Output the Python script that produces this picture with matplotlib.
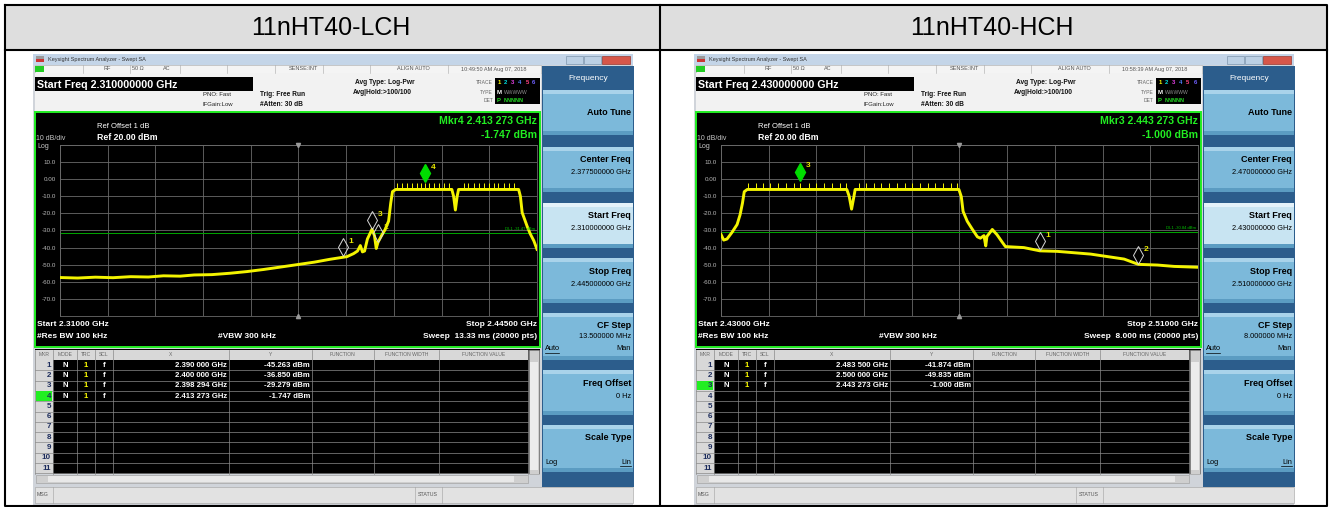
import numpy as np
import matplotlib.pyplot as plt
from matplotlib.patches import Rectangle
from matplotlib.transforms import blended_transform_factory

plt.rcParams['font.family'] = ['Liberation Sans', 'DejaVu Sans']

# ---- data ----
panel_titles = ['11nHT40-LCH', '11nHT40-HCH']
start_ghz = [2.310, 2.430]
stop_ghz = [2.445, 2.510]
center_txt = ['2.377500000 GHz', '2.470000000 GHz']
cf_step_txt = ['13.500000 MHz', '8.000000 MHz']
clock_txt = ['10:49:50 AM Aug 07, 2018', '10:58:39 AM Aug 07, 2018']
sweep_txt = ['13.33 ms', '8.000 ms']
dl1_dbm = [-31.47, -30.84]

lch_freq = [2.3100, 2.3150, 2.3200, 2.3250, 2.3300, 2.3350, 2.3393, 2.3440, 2.3480, 2.3530,
            2.3581, 2.3630, 2.3676, 2.3720, 2.3770, 2.3820, 2.3865, 2.3890, 2.3912, 2.3931,
            2.3942, 2.3950, 2.3956, 2.3962, 2.3970, 2.3983, 2.3990, 2.3995, 2.4000, 2.4010,
            2.4020, 2.4030, 2.4036, 2.4041, 2.4050, 2.4209, 2.4214, 2.4219, 2.4224, 2.4228,
            2.4398, 2.4403, 2.4408, 2.4422, 2.4431, 2.4441, 2.4450]
lch_level = [-57.5, -57.8, -57.3, -57.6, -57.0, -57.2, -56.5, -56.7, -56.0, -55.8,
             -55.0, -54.0, -52.8, -51.5, -50.0, -48.5, -46.8, -46.0, -45.3, -43.5,
             -42.0, -38.8, -42.5, -42.0, -35.0, -29.3, -33.0, -40.5, -36.85, -33.0,
             -29.5, -24.5, -14.0, -7.3, -6.0, -6.0, -10.0, -18.0, -10.0, -6.0,
             -6.0, -10.0, -19.5, -27.5, -32.0, -36.0, -41.0]
lch_spikes = [2.4053, 2.4068, 2.4082, 2.4096, 2.4110, 2.4121, 2.4133, 2.4145, 2.4159, 2.4173,
              2.4186, 2.4200, 2.4242, 2.4256, 2.4271, 2.4285, 2.4299, 2.4313, 2.4327, 2.4341,
              2.4356, 2.4370, 2.4384]

hch_freq = [2.4300, 2.43045, 2.4310, 2.4318, 2.4327, 2.4332, 2.4336, 2.4339, 2.4344, 2.4511,
            2.4515, 2.4519, 2.4523, 2.4525, 2.4699, 2.4703, 2.4706, 2.4713, 2.4721, 2.4730,
            2.4735, 2.4741, 2.4744, 2.4746, 2.4755, 2.4763, 2.4772, 2.4777, 2.4808, 2.4835,
            2.4864, 2.4920, 2.4976, 2.5000, 2.5032, 2.5060, 2.5100]
hch_level = [-32.3, -35.6, -35.0, -31.3, -26.5, -20.8, -14.0, -7.3, -6.0, -6.0,
             -10.0, -17.5, -10.0, -6.0, -6.0, -10.2, -18.8, -24.6, -29.0, -33.7,
             -34.5, -33.0, -39.0, -33.5, -29.4, -32.5, -37.0, -39.4, -40.0, -41.9,
             -42.2, -43.8, -46.7, -49.8, -50.2, -51.0, -51.5]
hch_spikes = [2.4345, 2.4358, 2.4371, 2.4383, 2.4396, 2.4409, 2.4422, 2.4433, 2.4448, 2.4460,
              2.4473, 2.4486, 2.4499, 2.4509, 2.4531, 2.4544, 2.4557, 2.4569, 2.4582, 2.4595,
              2.4608, 2.4621, 2.4634, 2.4647, 2.4659, 2.4672, 2.4685, 2.4696]

lch_mkr_x = [2.390000, 2.400000, 2.398294, 2.413273]
lch_mkr_y = [-45.263, -36.850, -29.279, -1.747]
hch_mkr_x = [2.483500, 2.500000, 2.443273]
hch_mkr_y = [-41.874, -49.835, -1.000]
active_mkr = [4, 3]

traces = [(lch_freq, lch_level, lch_spikes), (hch_freq, hch_level, hch_spikes)]
markers = [(lch_mkr_x, lch_mkr_y), (hch_mkr_x, hch_mkr_y)]

W, H = 1331, 507
fig = plt.figure(figsize=(W / 100, H / 100), dpi=100)
bg = fig.add_axes([0, 0, 1, 1])
bg.set_xlim(0, W)
bg.set_ylim(H, 0)
bg.axis('off')


def box(x, y, w, h, fc, ec='none', lw=0, z=1):
    bg.add_patch(Rectangle((x, y), w, h, facecolor=fc, edgecolor=ec, linewidth=lw, zorder=z))


def txt(x, y, s, size=5, color='black', ha='left', weight='normal', z=5):
    bg.text(x, y, s, fontsize=size, color=color, ha=ha, va='center', fontweight=weight, zorder=z)


def ghz(v):
    s = f'{v:.6f}'
    return s[:5] + ' ' + s[5:]


# outer table
box(5, 5, 1322, 45, '#dedede')
bg.plot([5, 1327, 1327, 5, 5], [5, 5, 506, 506, 5], color='black', lw=1.5, zorder=10)
bg.plot([5, 1327], [50, 50], color='black', lw=1.5, zorder=10)
bg.plot([660, 660], [5, 506], color='black', lw=1.5, zorder=10)
txt(331, 28, panel_titles[0], 18, ha='center')
txt(992, 28, panel_titles[1], 18, ha='center')


def draw_shot(i, dx):
    X = lambda x: x + dx
    start, stop = start_ghz[i], stop_ghz[i]

    # window + title bar
    box(X(33), 54, 600, 451, '#d0d4da')
    box(X(33), 54, 600, 11, '#c4d5e8')
    box(X(36), 56, 8, 3, '#9a9a9a', z=2)
    box(X(36), 59, 8, 3, '#cc3333', z=2)
    txt(X(48), 59.5, 'Keysight Spectrum Analyzer - Swept SA', 4, '#333333')
    box(X(566), 56, 17, 8, '#bcd0e4', '#7f96ae', 0.5, z=2)
    box(X(584), 56, 17, 8, '#bcd0e4', '#7f96ae', 0.5, z=2)
    box(X(602), 56, 28, 8, '#d6574a', '#9a3a30', 0.5, z=2)

    # status row
    box(X(35), 65, 506, 8, '#f4f4f4', '#b0b0b0', 0.4)
    box(X(35), 66, 9, 6, '#22cc22', z=2)
    for sx in [83, 130, 180, 227, 275, 323, 370, 448]:
        bg.plot([X(sx), X(sx)], [65, 73], color='#a8a8a8', lw=0.4, zorder=3)
    for sx, s in [(107, 'RF'), (138, '50 Ω'), (167, 'AC'), (303, 'SENSE:INT'), (413, 'ALIGN AUTO'), (494, clock_txt[i])]:
        txt(X(sx), 69, s, 4, '#555555', ha='center')

    # info area
    box(X(35), 73, 506, 38, '#f2f2f2')
    box(X(35), 77, 218, 14, 'black', z=2)
    txt(X(37), 84.5, f'Start Freq {start:.9f} GHz', 7.7, 'white', weight='bold')
    txt(X(231), 95, 'PNO: Fast', 4.3, '#222222', ha='right')
    txt(X(233), 104, 'IFGain:Low', 4.3, '#222222', ha='right')
    txt(X(260), 94, 'Trig: Free Run', 4.8, '#111111', weight='bold')
    txt(X(260), 104, '#Atten: 30 dB', 4.8, '#111111', weight='bold')
    txt(X(355), 83, 'Avg Type: Log-Pwr', 4.8, '#111111', weight='bold')
    txt(X(353), 93, 'Avg|Hold:>100/100', 4.8, '#111111', weight='bold')
    txt(X(493), 83, 'TRACE', 3.6, '#666666', ha='right')
    txt(X(493), 92, 'TYPE', 3.6, '#666666', ha='right')
    txt(X(493), 100, 'DET', 3.6, '#666666', ha='right')
    box(X(495), 78, 45, 26, 'black', z=2)
    for k, c in enumerate(['#ffff00', '#00e0e0', '#e040e0', '#5080ff', '#ff4080', '#7060ff']):
        txt(X(499 + 7 * k), 83, str(k + 1), 4.3, c, ha='center', weight='bold')
    txt(X(499), 92, 'M', 4.3, 'white', ha='center', weight='bold')
    txt(X(504), 92, 'WWWWW', 3.6, '#909090')
    txt(X(499), 100, 'P', 4.3, '#22dd22', ha='center', weight='bold')
    txt(X(504), 100, 'NNNNN', 4.0, '#22dd22', weight='bold')

    # plot frame
    box(X(35), 112, 505, 235, 'black', '#22ee22', 1.4)
    txt(X(97), 127, 'Ref Offset 1 dB', 5.5, 'white')
    txt(X(97), 138, 'Ref 20.00 dBm', 6.3, 'white', weight='bold')
    txt(X(36), 139, '10 dB/div', 5, '#c8c8c8')
    txt(X(37), 146, 'Log', 5, '#c8c8c8')
    mx, my = markers[i]
    a = active_mkr[i] - 1
    txt(X(537), 121, f'Mkr{active_mkr[i]} {ghz(mx[a])} GHz', 7.6, '#22ee22', ha='right', weight='bold')
    txt(X(537), 135, f'{my[a]:.3f} dBm', 7.6, '#22ee22', ha='right', weight='bold')
    txt(X(37), 324, f'Start {start:.5f} GHz', 6, 'white', weight='bold')
    txt(X(537), 324, f'Stop {stop:.5f} GHz', 6, 'white', ha='right', weight='bold')
    txt(X(37), 337, '#Res BW 100 kHz', 6, 'white', weight='bold')
    txt(X(218), 337, '#VBW 300 kHz', 6, 'white', weight='bold')
    txt(X(537), 337, f'Sweep  {sweep_txt[i]} (20000 pts)', 6, 'white', ha='right', weight='bold')

    # spectrum graticule
    ax = fig.add_axes([X(60) / W, 1 - 316 / H, 477 / W, 171 / H])
    ax.set_facecolor('black')
    ax.set_xlim(start, stop)
    ax.set_ylim(-80, 20)
    ax.set_xticks(np.linspace(start, stop, 11))
    yt = np.arange(-80, 21, 10)
    ax.set_yticks(yt)
    ax.set_yticklabels(['' if v in (-80, 20) else ('0.00' if v == 0 else f'{v:.1f}') for v in yt])
    ax.grid(True, color='#6a6a6a', lw=0.6)
    ax.tick_params(length=0, labelbottom=False, labelsize=4.5, labelcolor='#b8b8b8', pad=3)
    for sp in ax.spines.values():
        sp.set_color('#6a6a6a')
        sp.set_linewidth(0.6)

    f, lv, sp_f = traces[i]
    ax.plot(f, lv, color='#f4f400', lw=2.1, zorder=3)
    ax.vlines(sp_f, -6, -2.5, color='#f4f400', lw=0.7, zorder=3)

    ax.axhline(dl1_dbm[i], color='#00a800', lw=0.7, zorder=2)
    tr = blended_transform_factory(ax.transAxes, ax.transData)
    ax.text(0.995, dl1_dbm[i] + 1, f'DL1 {dl1_dbm[i]:.2f} dBm', transform=tr, ha='right', va='bottom',
            fontsize=3, color='#00c000')
    cf = (start + stop) / 2
    ax.plot([cf], [20], marker='v', color='#9a9a9a', ms=3, clip_on=False, zorder=4)
    ax.plot([cf], [-80], marker='^', color='#9a9a9a', ms=3, clip_on=False, zorder=4)

    for k, (x, y) in enumerate(zip(mx, my), start=1):
        if k == active_mkr[i]:
            ax.plot(x, y + 5.5, marker='d', ms=9, mfc='#00dd00', mec='#00dd00', zorder=5)
        else:
            ax.plot(x, y + 5.5, marker='d', ms=9, mfc='none', mec='#d8d8d8', mew=0.7, zorder=5)
        ax.annotate(str(k), (x, y + 5.5), xytext=(4, 3), textcoords='offset points',
                    color='#e8e800', fontsize=6, fontweight='bold', zorder=6)

    # marker table
    box(X(35), 349, 505, 125, 'black')
    box(X(35), 350, 493, 10, '#d8d8d8', z=2)
    box(X(35), 360, 18, 114, '#d8d8d8', z=2)
    cols = [35, 53, 77, 95, 113, 229, 312, 374, 439, 528]
    for cx in cols:
        bg.plot([X(cx), X(cx)], [350, 474], color='#8a8a8a', lw=0.5, zorder=3)
    heads = ['MKR', 'MODE', 'TRC', 'SCL', 'X', 'Y', 'FUNCTION', 'FUNCTION WIDTH', 'FUNCTION VALUE']
    for k, hname in enumerate(heads):
        txt(X((cols[k] + cols[k + 1]) / 2), 355, hname, 3.6, '#666666', ha='center', z=4)
    rh = 10.3
    for r in range(11):
        y0 = 360 + r * rh
        bg.plot([X(35), X(528)], [y0 + rh, y0 + rh], color='#8a8a8a', lw=0.5, zorder=3)
        yc = y0 + rh / 2
        if r + 1 == active_mkr[i]:
            box(X(36), y0 + 0.5, 16, rh - 1, '#22ee22', z=3)
        txt(X(51), yc, str(r + 1), 5.8, '#1c2c5c', ha='right', weight='bold', z=4)
        if r < len(mx):
            txt(X(65), yc, 'N', 5.6, 'white', ha='center', weight='bold')
            txt(X(86), yc, '1', 5.6, '#ffff00', ha='center', weight='bold')
            txt(X(104), yc, 'f', 5.6, 'white', ha='center', weight='bold')
            txt(X(227), yc, f'{ghz(mx[r])} GHz', 5.6, 'white', ha='right', weight='bold')
            txt(X(310), yc, f'{my[r]:.3f} dBm', 5.6, 'white', ha='right', weight='bold')
    box(X(529), 350, 10, 124, '#cfcfcf', '#9a9a9a', 0.4, z=3)
    box(X(530), 362, 8, 108, '#ececec', z=3)
    box(X(36), 475, 492, 8, '#cfcfcf', '#9a9a9a', 0.4, z=3)
    box(X(48), 476, 466, 6, '#e8e8e8', z=3)

    # status bar
    box(X(35), 487, 598, 16, '#e2e2e2', '#a0a0a0', 0.4)
    for sx in [53, 415, 442]:
        bg.plot([X(sx), X(sx)], [487, 503], color='#a0a0a0', lw=0.4, zorder=3)
    txt(X(43), 495, 'MSG', 3.8, '#555555', ha='center')
    txt(X(428), 495, 'STATUS', 3.8, '#555555', ha='center')

    # soft key panel
    box(X(542), 66, 92, 421, '#2c5d8c')
    txt(X(588), 78, 'Frequency', 6, 'white', ha='center')
    keys = [('Auto Tune', None, 90, 135), ('Center Freq', center_txt[i], 147, 192),
            ('Start Freq', f'{start:.9f} GHz', 203, 248), ('Stop Freq', f'{stop:.9f} GHz', 258, 303),
            ('CF Step', cf_step_txt[i], 313, 360), ('Freq Offset', '0 Hz', 370, 415),
            ('Scale Type', None, 425, 472)]
    for name, val, y0, y1 in keys:
        fc = '#c8e4f2' if name == 'Start Freq' else '#7cb9da'
        box(X(543), y0, 90, y1 - y0, fc, z=2)
        box(X(543), y0, 90, 4, '#a9d3ea' if name != 'Start Freq' else '#e4f2fa', z=2)
        box(X(543), y1 - 4, 90, 4, '#5b9cc2', z=2)
        if name == 'Auto Tune':
            txt(X(631), (y0 + y1) / 2, name, 6.5, 'black', ha='right', weight='bold')
        else:
            txt(X(631), y0 + 13, name, 6.5, 'black', ha='right', weight='bold')
        if val is not None:
            txt(X(631), y0 + 26 if name != 'CF Step' else y0 + 24, val, 5.3, 'black', ha='right')
        if name == 'CF Step':
            txt(X(545), y0 + 36, 'Auto', 5.3, 'black')
            bg.plot([X(545), X(559)], [y0 + 40, y0 + 40], color='black', lw=0.5, zorder=5)
            txt(X(631), y0 + 36, 'Man', 5.3, 'black', ha='right')
        if name == 'Scale Type':
            txt(X(545), y0 + 37, 'Log', 5.3, 'black')
            txt(X(631), y0 + 37, 'Lin', 5.3, 'black', ha='right')
            bg.plot([X(620), X(631)], [y0 + 41, y0 + 41], color='black', lw=0.5, zorder=5)


draw_shot(0, 0)
draw_shot(1, 661)

fig.savefig('out.png', dpi=100)
